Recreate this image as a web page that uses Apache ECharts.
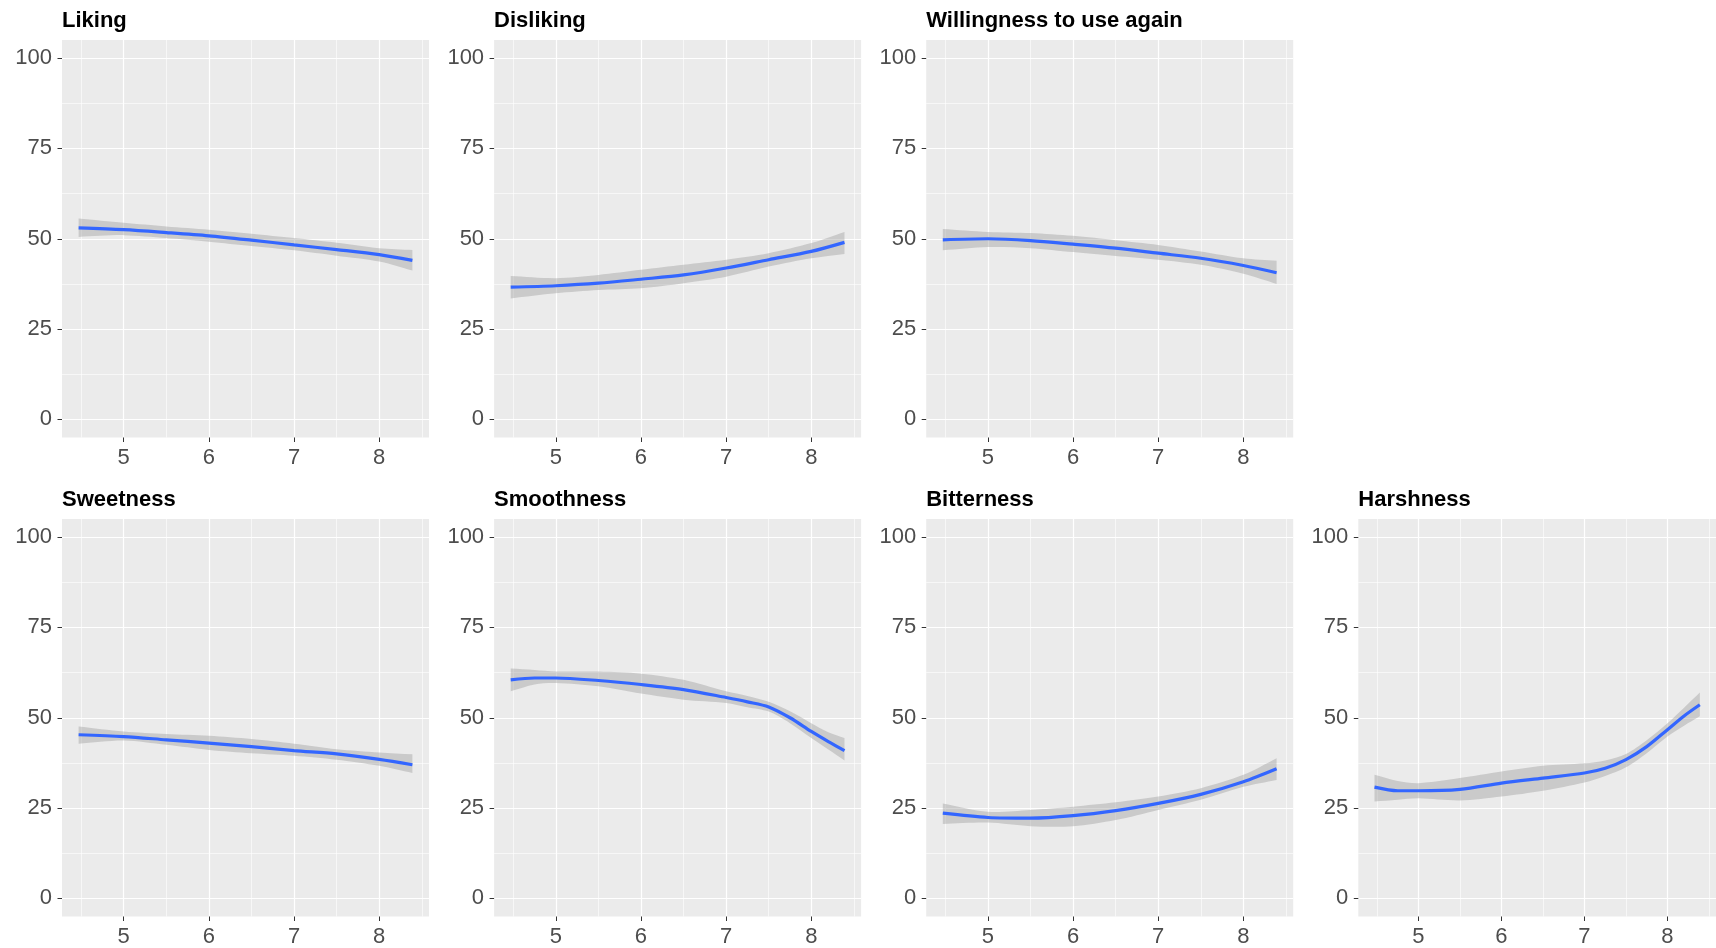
<!DOCTYPE html>
<html><head><meta charset="utf-8">
<script src="https://cdn.jsdelivr.net/npm/echarts@6/dist/echarts.min.js"></script>
<style>html,body{margin:0;padding:0;background:#fff}#c{width:1716px;height:948px}</style>
</head><body><div id="c"></div>
<script>
// ---- data ----
const titles = ["Liking", "Disliking", "Willingness to use again", "Sweetness", "Smoothness", "Bitterness", "Harshness"];
const xA = [4.47, 5, 5.5, 6, 6.5, 7, 7.5, 8, 8.39];
const xB = [4.47, 4.75, 5, 5.5, 6, 6.5, 7, 7.25, 7.5, 7.75, 8, 8.2, 8.39];

const likingFit = [53.0, 52.5, 51.7, 50.8, 49.6, 48.3, 47.0, 45.6, 44.0];
const likingHi  = [55.6, 54.4, 53.4, 52.5, 51.4, 50.2, 48.9, 47.4, 46.9];
const likingLo  = [50.5, 51.0, 50.2, 49.2, 48.0, 46.8, 45.3, 43.7, 41.2];

const dislikingFit = [36.6, 37.0, 37.7, 38.8, 40.0, 41.9, 44.2, 46.5, 49.0];
const dislikingHi  = [39.7, 39.1, 40.0, 41.4, 42.8, 44.2, 46.0, 48.8, 51.9];
const dislikingLo  = [33.5, 34.9, 35.8, 36.3, 37.7, 39.5, 42.3, 44.6, 45.8];

const willingFit = [49.7, 50.0, 49.5, 48.5, 47.4, 46.0, 44.6, 42.6, 40.6];
const willingHi  = [52.7, 51.9, 51.6, 50.8, 49.6, 48.3, 46.5, 44.6, 43.9];
const willingLo  = [46.8, 47.7, 47.4, 46.3, 45.2, 44.2, 42.8, 40.3, 37.5];

const sweetFit = [45.3, 44.8, 43.9, 43.0, 42.0, 40.9, 40.0, 38.5, 37.0];
const sweetHi  = [47.6, 46.2, 45.5, 45.0, 44.1, 42.8, 41.3, 40.4, 39.9];
const sweetLo  = [42.8, 43.7, 42.5, 41.1, 40.2, 39.5, 38.4, 36.7, 34.7];

const smoothFit = [60.5, 61.0, 61.0, 60.3, 59.2, 57.8, 55.6, 54.4, 53.0, 50.0, 46.2, 43.4, 40.9];
const smoothHi  = [63.6, 63.2, 62.8, 62.8, 62.2, 60.5, 57.3, 56.0, 54.4, 51.8, 48.5, 46.0, 44.4];
const smoothLo  = [57.3, 59.2, 59.6, 58.7, 56.7, 55.0, 54.1, 52.9, 51.7, 48.5, 44.4, 41.2, 38.2];

const bitterFit = [23.6, 22.4, 22.2, 22.9, 24.3, 26.3, 28.8, 32.3, 35.9];
const bitterHi  = [26.3, 24.0, 24.5, 25.4, 26.6, 28.2, 30.5, 34.2, 38.8];
const bitterLo  = [20.6, 21.0, 20.0, 20.0, 21.7, 24.5, 27.3, 30.9, 32.8];

const harshFit = [30.8, 29.8, 29.8, 30.2, 31.9, 33.3, 34.7, 36.0, 38.4, 42.0, 46.7, 50.5, 53.6];
const harshHi  = [34.2, 32.5, 31.9, 33.3, 35.1, 36.7, 37.4, 38.2, 40.0, 43.8, 48.5, 52.8, 57.0];
const harshLo  = [26.8, 27.3, 27.7, 27.1, 28.2, 29.8, 32.1, 33.9, 36.3, 40.2, 44.8, 47.8, 50.4];

const xTicks = [5, 6, 7, 8];
const xMinor = [4.5, 5.5, 6.5, 7.5, 8.5];
const yTicks = [0, 25, 50, 75, 100];
const yMinor = [12.5, 37.5, 62.5, 87.5];
const xRange = [4.275, 8.585];
const yRange = [-5, 105];

// ---- layout ----
const panels = [
  {t: 0, x: xA, fit: likingFit, hi: likingHi, lo: likingLo, col: 0, row: 0},
  {t: 1, x: xA, fit: dislikingFit, hi: dislikingHi, lo: dislikingLo, col: 1, row: 0},
  {t: 2, x: xA, fit: willingFit, hi: willingHi, lo: willingLo, col: 2, row: 0},
  {t: 3, x: xA, fit: sweetFit, hi: sweetHi, lo: sweetLo, col: 0, row: 1},
  {t: 4, x: xB, fit: smoothFit, hi: smoothHi, lo: smoothLo, col: 1, row: 1},
  {t: 5, x: xA, fit: bitterFit, hi: bitterHi, lo: bitterLo, col: 2, row: 1},
  {t: 6, x: xB, fit: harshFit, hi: harshHi, lo: harshLo, col: 3, row: 1}
];
const colLeft = [62, 494.1, 926.2, 1358.3];
const rowTop = [40, 519];
const W = 367, H = 397.5;
const FONT = "'Liberation Sans', Arial, sans-serif";

const option = {
  animation: false,
  backgroundColor: '#FFFFFF',
  title: [], grid: [], xAxis: [], yAxis: [], series: []
};

panels.forEach((p, k) => {
  const left = colLeft[p.col], top = rowTop[p.row];
  option.title.push({
    text: titles[p.t], left: left, top: top - 30.5, padding: 0,
    textStyle: {fontFamily: FONT, fontSize: 22, fontWeight: 'bold', color: '#000000'}
  });
  option.grid.push({left: left, top: top, width: W, height: H, show: true,
    backgroundColor: '#EBEBEB', borderWidth: 0, containLabel: false});
  option.xAxis.push({
    type: 'value', gridIndex: k, min: xRange[0], max: xRange[1], position: 'bottom',
    axisLine: {show: false, onZero: false},
    axisTick: {show: true, length: 4.5, lineStyle: {color: '#333333', width: 1}, customValues: xTicks},
    axisLabel: {show: true, margin: 9, fontFamily: FONT, fontSize: 22, color: '#4D4D4D',
      customValues: xTicks, hideOverlap: false},
    splitLine: {show: true, lineStyle: {color: '#FFFFFF', width: 1.2}}
  });
  option.xAxis.push({
    type: 'value', gridIndex: k, min: xRange[0], max: xRange[1], position: 'top',
    axisLine: {show: false, onZero: false},
    axisTick: {show: false, customValues: xMinor},
    axisLabel: {show: false, customValues: xMinor},
    splitLine: {show: true, lineStyle: {color: '#FFFFFF', width: 0.6}}
  });
  option.yAxis.push({
    type: 'value', gridIndex: k, min: yRange[0], max: yRange[1], position: 'left',
    axisLine: {show: false, onZero: false},
    axisTick: {show: true, length: 4.5, lineStyle: {color: '#333333', width: 1}, customValues: yTicks},
    axisLabel: {show: true, margin: 10, fontFamily: FONT, fontSize: 22, color: '#4D4D4D',
      customValues: yTicks, hideOverlap: false},
    splitLine: {show: true, lineStyle: {color: '#FFFFFF', width: 1.2}}
  });
  option.yAxis.push({
    type: 'value', gridIndex: k, min: yRange[0], max: yRange[1], position: 'right',
    axisLine: {show: false, onZero: false},
    axisTick: {show: false, customValues: yMinor},
    axisLabel: {show: false, customValues: yMinor},
    splitLine: {show: true, lineStyle: {color: '#FFFFFF', width: 0.6}}
  });
  const xi = 2 * k, yi = 2 * k;
  // confidence ribbon: one polygon built from the hi / lo arrays via the axes' scales
  option.series.push({
    type: 'custom', xAxisIndex: xi, yAxisIndex: yi, silent: true, clip: true,
    data: p.x.map((v, i) => [v, p.lo[i], p.hi[i]]),
    renderItem: function (params, api) {
      if (params.dataIndex !== 0) return null;
      const n = p.x.length;
      const up = [], dn = [];
      for (let i = 0; i < n; i++) up.push(api.coord([p.x[i], p.hi[i]]));
      for (let i = n - 1; i >= 0; i--) dn.push(api.coord([p.x[i], p.lo[i]]));
      const pts = [up[0]].concat(up, [up[n - 1]], [dn[0]], dn, [dn[n - 1]]);
      return {
        type: 'polygon',
        shape: {points: pts, smooth: 0.3},
        style: {fill: 'rgba(153,153,153,0.4)', stroke: null}
      };
    }
  });
  option.series.push({
    type: 'line', xAxisIndex: xi, yAxisIndex: yi, silent: true,
    symbol: 'none', smooth: 0.3, lineStyle: {color: '#3366FF', width: 3.2},
    data: p.x.map((v, i) => [v, p.fit[i]])
  });
});

const chart = echarts.init(document.getElementById('c'), null, {renderer: 'canvas'});
chart.setOption(option);
</script>
</body></html>
